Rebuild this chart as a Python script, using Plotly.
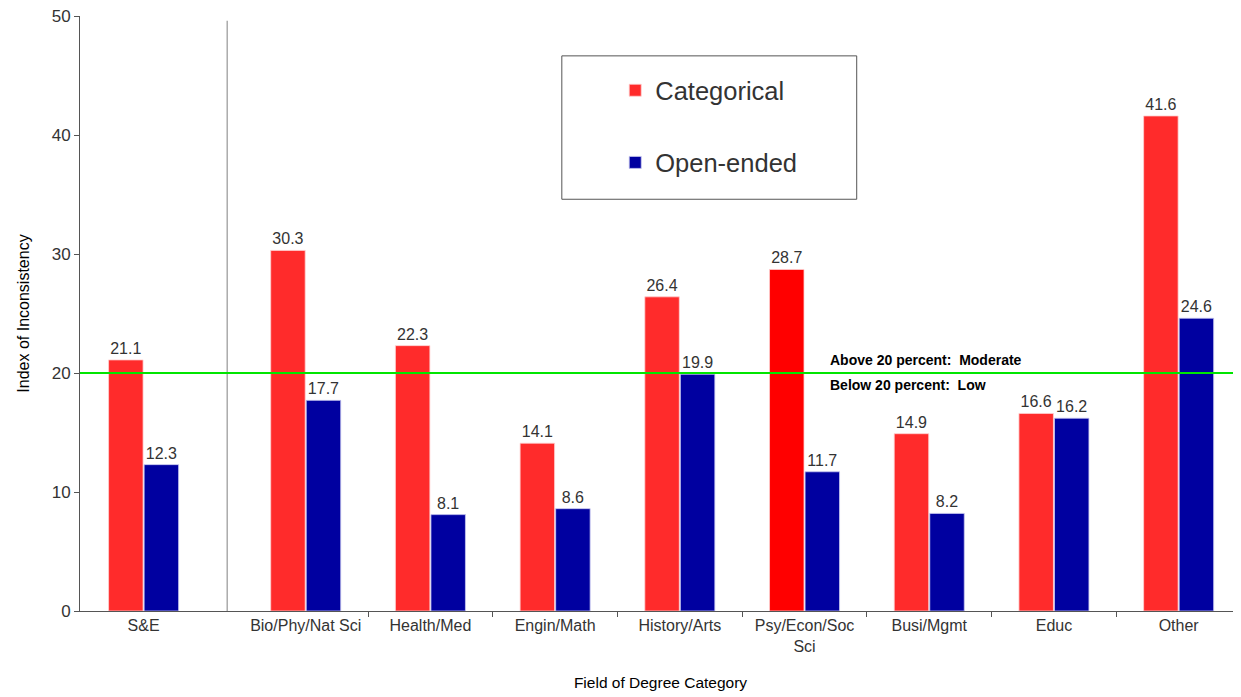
import plotly.graph_objects as go

categories = ["S&E", "Bio/Phy/Nat Sci", "Health/Med", "Engin/Math", "History/Arts",
              "Psy/Econ/Soc<br>Sci", "Busi/Mgmt", "Educ", "Other"]
categorical = [21.1, 30.3, 22.3, 14.1, 26.4, 28.7, 14.9, 16.6, 41.6]
open_ended = [12.3, 17.7, 8.1, 8.6, 19.9, 11.7, 8.2, 16.2, 24.6]
y_ticks = [0, 10, 20, 30, 40, 50]
threshold = 20

# x positions: S&E set apart from the field categories by a separator
x_pos = [-1.3] + list(range(len(categories) - 1))
sep_x = -0.63
boundaries = [i + 0.5 for i in range(len(categories) - 2)]

RED = "#FF2B2B"
BLUE = "#0000A0"
red_colors = [RED] * len(categories)
red_colors[5] = "#FF0000"

FONT = "Arial, Liberation Sans, sans-serif"

fig = go.Figure()
fig.add_trace(go.Bar(
    x=x_pos, y=categorical, name="Categorical", legendgroup="a",
    marker=dict(color=red_colors, line=dict(color="#FFD0D0", width=0.8)),
    text=[f"{v:.1f}" for v in categorical], textposition="outside",
    textfont=dict(size=16, color="#333333", family=FONT), cliponaxis=False,
))
fig.add_trace(go.Bar(
    x=x_pos, y=open_ended, name="Open-ended", legendgroup="b",
    marker=dict(color=BLUE, line=dict(color="#C8C8F0", width=0.8)),
    text=[f"{v:.1f}" for v in open_ended], textposition="outside",
    textfont=dict(size=16, color="#333333", family=FONT), cliponaxis=False,
))

fig.add_shape(type="line", xref="x", yref="y", x0=sep_x, x1=sep_x, y0=0, y1=49.6,
              line=dict(color="#808080", width=1))
fig.add_shape(type="line", xref="paper", yref="y", x0=0, x1=1, y0=threshold, y1=threshold,
              line=dict(color="#00E600", width=2))
# legend box
fig.add_shape(type="rect", xref="paper", yref="paper", x0=0.415, x1=0.669, y0=0.692, y1=0.933,
              line=dict(color="#555555", width=1), fillcolor="rgba(0,0,0,0)")

fig.add_annotation(x=4.19, y=threshold, xref="x", yref="y", yshift=13, xanchor="left",
                   text="<b>Above 20 percent:  Moderate</b>", showarrow=False,
                   font=dict(size=14, color="#000000", family=FONT))
fig.add_annotation(x=4.19, y=threshold, xref="x", yref="y", yshift=-12, xanchor="left",
                   text="<b>Below 20 percent:  Low</b>", showarrow=False,
                   font=dict(size=14, color="#000000", family=FONT))

fig.update_layout(
    width=1233, height=689,
    margin=dict(l=72, r=0, t=8, b=86),
    plot_bgcolor="white", paper_bgcolor="white",
    barmode="group", bargap=0.43, bargroupgap=0.03,
    font=dict(family=FONT, color="#333333"),
    legend=dict(x=0.461, y=0.914, xanchor="left", yanchor="top",
                font=dict(size=25.5, color="#333333", family=FONT),
                bgcolor="rgba(0,0,0,0)", traceorder="grouped", tracegroupgap=36),
    xaxis=dict(
        range=[-1.81, 7.5], tickmode="array", tickvals=x_pos, ticktext=categories,
        ticks="", showgrid=False, zeroline=False, showline=True, linecolor="#555555",
        tickfont=dict(size=16, color="#333333"),
        minor=dict(tickmode="array", tickvals=boundaries, ticks="outside", ticklen=5,
                   tickcolor="#555555", showgrid=False),
        title=dict(text="Field of Degree Category", font=dict(size=15.5, color="#000000"), standoff=23),
    ),
    yaxis=dict(
        range=[0, 50], tickvals=y_ticks, ticks="outside", ticklen=5, tickcolor="#555555",
        showgrid=False, zeroline=False, showline=True, linecolor="#555555",
        tickfont=dict(size=17, color="#333333"), ticklabeloverflow="allow",
        title=dict(text="Index of Inconsistency", font=dict(size=16, color="#000000"), standoff=18),
    ),
)

fig.write_html("out.html")
